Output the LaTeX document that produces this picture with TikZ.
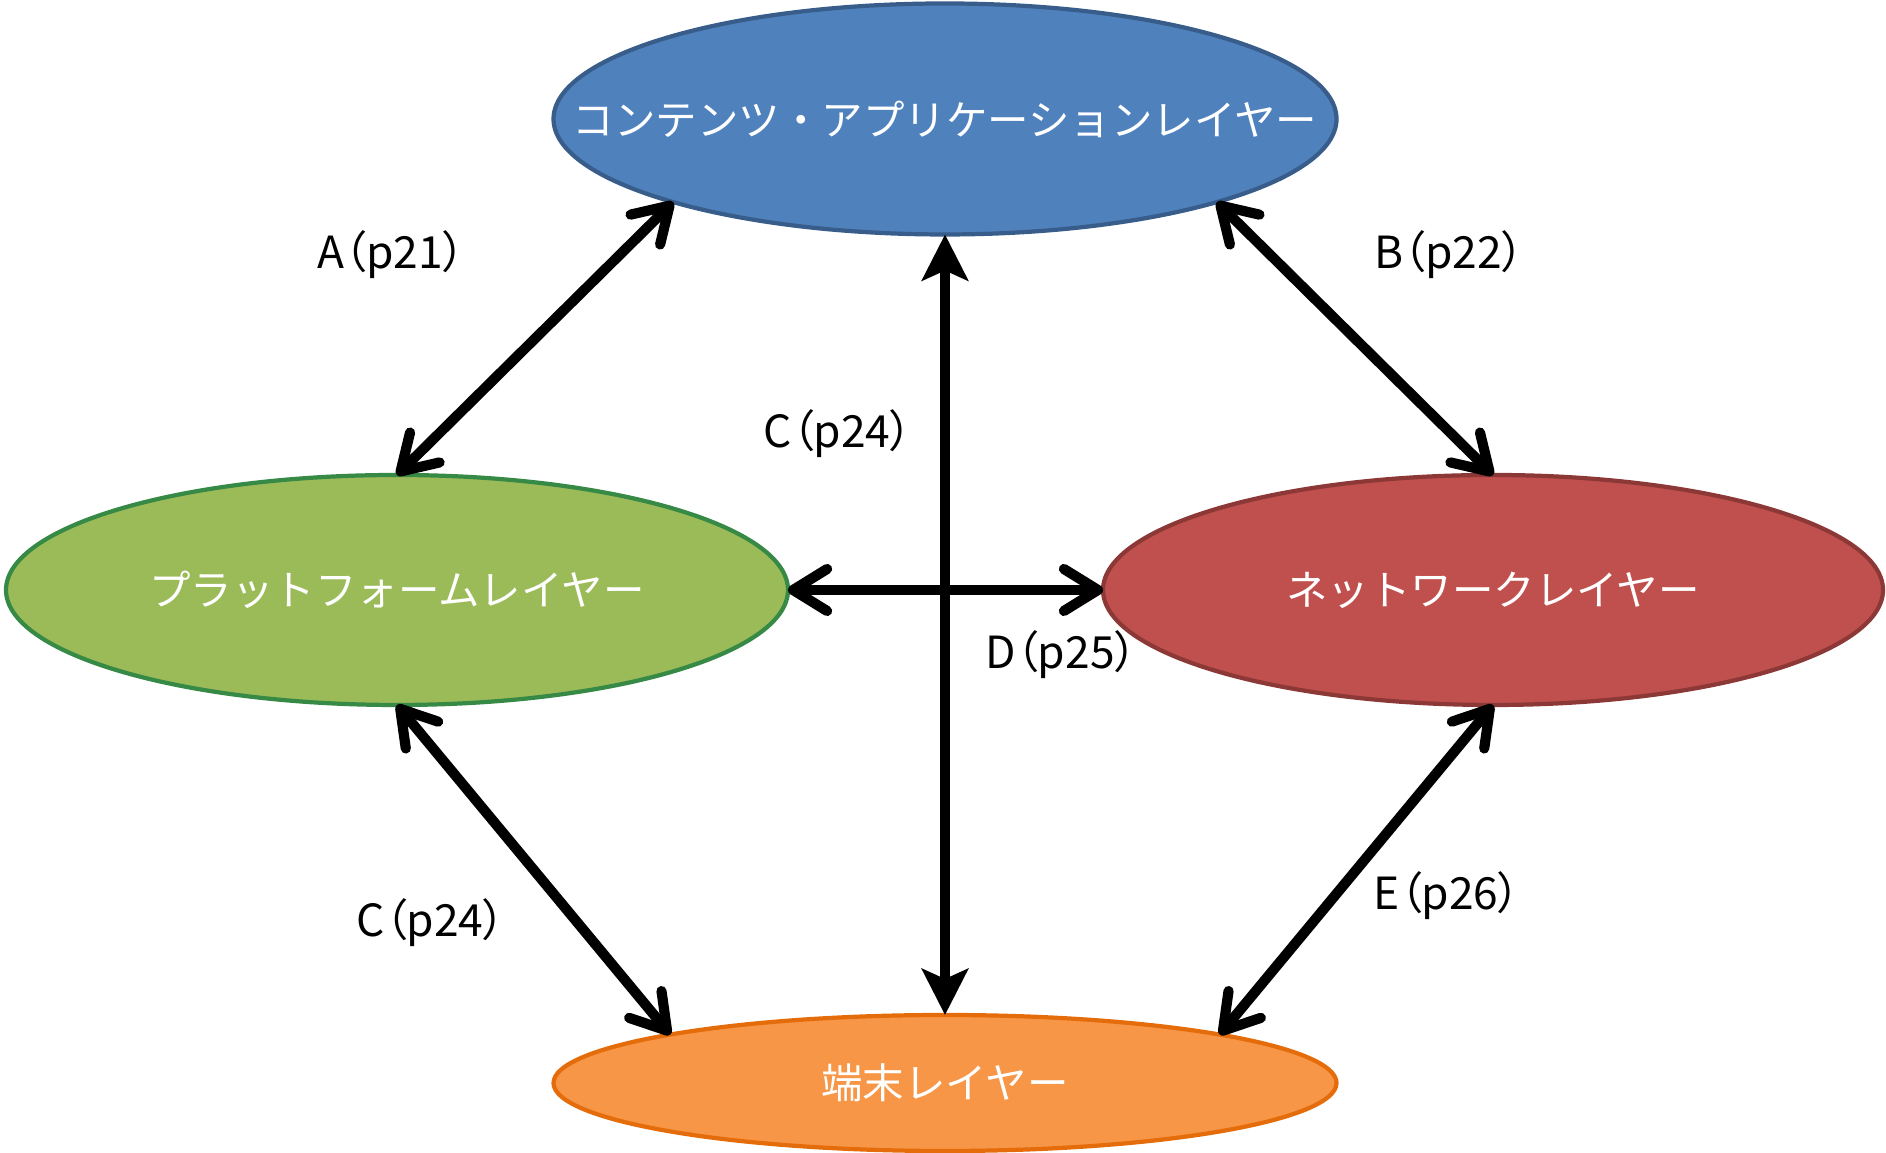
\documentclass[tikz,border=0pt]{standalone}
\usepackage{fontspec}
\usetikzlibrary{shapes.geometric,arrows.meta}
\newfontfamily\jpfont{Noto Sans CJK JP}
\newfontfamily\jplabel[RawFeature=+palt]{Noto Sans CJK JP}
\definecolor{LayerBlue}{RGB}{79, 129, 189}
\definecolor{LayerBlueLine}{RGB}{56, 93, 138}
\definecolor{LayerGreen}{RGB}{155, 187, 89}
\definecolor{LayerGreenLine}{RGB}{55, 137, 70}
\definecolor{LayerRed}{RGB}{192, 80, 77}
\definecolor{LayerRedLine}{RGB}{140, 56, 54}
\definecolor{LayerOrange}{RGB}{247, 150, 70}
\definecolor{LayerOrangeLine}{RGB}{228, 108, 10}

\tikzset{
    layer/.style={ellipse, line width=1.2pt, inner sep=0pt, outer sep=0pt},
    layertext/.style={text=white, inner sep=0pt, font=\jpfont\fontsize{11.8}{14}\selectfont},
    link/.style={line width=2.9pt, {Straight Barb[length=3.4mm, width=4.2mm, round]}-{Straight Barb[length=3.4mm, width=4.2mm, round]}},
    vlink/.style={line width=2.9pt, {Stealth[length=4.6mm, width=4.6mm, inset=1mm]}-{Stealth[length=4.6mm, width=4.6mm, inset=1mm]}},
    tag/.style={font=\jplabel\fontsize{12.6}{15}\selectfont}
}

\begin{document}
\begin{tikzpicture}
    \useasboundingbox (0,0) rectangle (18.86,11.53);
    % Layers
    \node[layer, fill=LayerBlue, draw=LayerBlueLine, minimum width=7.83cm, minimum height=2.31cm,
        label={[layertext]center:コンテンツ・アプリケーションレイヤー}] (app) at (9.45,10.34) {};
    \node[layer, fill=LayerGreen, draw=LayerGreenLine, minimum width=7.82cm, minimum height=2.30cm,
        label={[layertext]center:プラットフォームレイヤー}] (plat) at (3.97,5.63) {};
    \node[layer, fill=LayerRed, draw=LayerRedLine, minimum width=7.80cm, minimum height=2.30cm,
        label={[layertext]center:ネットワークレイヤー}] (net) at (14.93,5.63) {};
    \node[layer, fill=LayerOrange, draw=LayerOrangeLine, minimum width=7.83cm, minimum height=1.36cm,
        label={[layertext]center:端末レイヤー}] (term) at (9.45,0.70) {};
    % Interfaces
    \draw[link] (app.197) -- (plat.north);
    \draw[link] (app.343) -- (net.north);
    \draw[link] (plat.south) -- (term.170);
    \draw[link] (net.south) -- (term.10);
    \draw[link] (plat.east) -- (net.west);
    \draw[vlink] (app.south) -- (term.north);
    % Labels
    \node[tag] (ta) at (3.91,8.98) {A（p21）};
    \node[tag] (tb) at (14.49,8.98) {B（p22）};
    \node[tag] (tc) at (8.38,7.19) {C（p24）};
    \node[tag] (td) at (10.61,4.98) {D（p25）};
    \node[tag] (tc2) at (4.31,2.30) {C（p24）};
    \node[tag] (te) at (14.47,2.57) {E（p26）};
\end{tikzpicture}
\end{document}
